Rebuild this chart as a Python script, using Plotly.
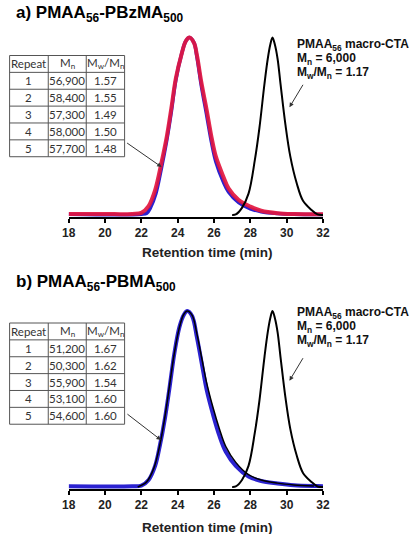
import plotly.graph_objects as go

W, H = 416, 534

# ---------------- data ----------------
# Panel a: PMAA56-PBzMA500
a_red_x = [18, 20, 21.5, 22.0, 22.4, 22.76, 23.1, 23.4, 23.65, 23.9, 24.2, 24.45, 24.65, 24.9,
           25.06, 25.3, 25.6, 25.86, 26.1, 26.5, 26.8, 27.36, 28.0, 28.6, 29.5, 30.4, 31.2, 32]
a_red_y = [0.005, 0.005, 0.006, 0.012, 0.05, 0.14, 0.29, 0.44, 0.60, 0.77, 0.90, 0.98, 1.0, 0.97,
           0.90, 0.75, 0.59, 0.44, 0.33, 0.22, 0.15, 0.084, 0.047, 0.024, 0.01, 0.005, 0.004, 0.004]
a_blue_x = [18, 22.0, 22.3, 22.5, 22.8, 23.1, 23.4, 23.65, 23.9, 24.2, 24.45, 24.65, 24.9, 25.06,
            25.3, 25.6, 25.86, 26.1, 26.5, 26.8, 27.36, 28.0, 28.6, 29.5, 30.4, 32]
a_blue_y = [0.004, 0.004, 0.01, 0.04, 0.12, 0.26, 0.42, 0.58, 0.76, 0.90, 0.98, 1.0, 0.97, 0.89,
            0.73, 0.56, 0.41, 0.30, 0.19, 0.13, 0.07, 0.035, 0.018, 0.008, 0.004, 0.003]

# Macro-CTA (same trace in both panels)
cta_x = [27.0, 27.2, 27.54, 27.9, 28.25, 28.5, 28.78, 28.96, 29.1, 29.22, 29.35, 29.5, 29.66,
         29.93, 30.2, 30.55, 30.9, 31.35, 31.7, 32]
cta_y = [0, 0.003, 0.04, 0.12, 0.31, 0.49, 0.74, 0.88, 0.96, 1.0, 0.96, 0.88, 0.74,
         0.51, 0.33, 0.18, 0.08, 0.03, 0.003, 0]

# Panel b: PMAA56-PBMA500
b_blue_x = [18, 21.5, 22.0, 22.4, 22.76, 23.03, 23.3, 23.56, 23.82, 24.1, 24.35, 24.53, 24.8, 25.06,
            25.33, 25.6, 25.95, 26.3, 26.65, 27.2, 27.9, 28.6, 29.5, 30.4, 31.7, 32]
b_blue_y = [0.004, 0.004, 0.008, 0.04, 0.12, 0.24, 0.39, 0.57, 0.76, 0.91, 0.98, 1.0, 0.97, 0.85,
            0.70, 0.55, 0.41, 0.29, 0.20, 0.12, 0.06, 0.034, 0.02, 0.01, 0.005, 0.004]
b_black_x = [21.8, 22.3, 22.7, 23.0, 23.27, 23.53, 23.8, 24.08, 24.33, 24.53, 24.8, 25.06, 25.33,
             25.6, 25.95, 26.3, 26.65, 27.2, 27.9, 28.6, 29.5, 30.4, 31.5]
b_black_y = [0.0, 0.03, 0.11, 0.23, 0.38, 0.56, 0.75, 0.90, 0.98, 1.0, 0.975, 0.87, 0.73,
             0.59, 0.45, 0.33, 0.23, 0.14, 0.07, 0.04, 0.022, 0.012, 0.006]

# Tables
table_header = ["Repeat", "M<sub>n</sub>", "M<sub>w</sub>/M<sub>n</sub>"]
repeats = ["1", "2", "3", "4", "5"]
a_mn = ["56,900", "58,400", "57,300", "58,000", "57,700"]
a_pdi = ["1.57", "1.55", "1.49", "1.50", "1.48"]
b_mn = ["51,200", "50,300", "55,900", "53,100", "54,600"]
b_pdi = ["1.67", "1.62", "1.54", "1.60", "1.60"]

tick_vals = [18, 20, 22, 24, 26, 28, 30, 32]
cta_lines = ["PMAA<sub>56</sub> macro-CTA", "M<sub>n</sub> = 6,000", "M<sub>w</sub>/M<sub>n</sub> = 1.17"]
titles = ["a) PMAA<sub>56</sub>-PBzMA<sub>500</sub>", "b) PMAA<sub>56</sub>-PBMA<sub>500</sub>"]
xlabel = "Retention time (min)"

RED = "#e3173f"
BLUE = "#2b22d0"
ARIAL = "Liberation Sans, Arial, sans-serif"
TFONT = "Lato, sans-serif"


def py(p):
    return 1 - p / H


def px(p):
    return p / W


fig = go.Figure()

# panel a
fig.add_trace(go.Scatter(x=a_blue_x, y=a_blue_y, mode="lines", line=dict(color=BLUE, width=3.5, shape="spline"),
                         xaxis="x", yaxis="y", showlegend=False))
fig.add_trace(go.Scatter(x=a_red_x, y=a_red_y, mode="lines", line=dict(color=RED, width=4, shape="spline"),
                         opacity=0.92, xaxis="x", yaxis="y", showlegend=False))
fig.add_trace(go.Scatter(x=cta_x, y=cta_y, mode="lines", line=dict(color="black", width=2, shape="spline"),
                         xaxis="x", yaxis="y", showlegend=False))
# panel b
fig.add_trace(go.Scatter(x=b_blue_x, y=b_blue_y, mode="lines", line=dict(color=BLUE, width=4, shape="spline"),
                         xaxis="x2", yaxis="y2", showlegend=False))
fig.add_trace(go.Scatter(x=b_black_x, y=b_black_y, mode="lines", line=dict(color="black", width=1.5, shape="spline"),
                         xaxis="x2", yaxis="y2", showlegend=False))
fig.add_trace(go.Scatter(x=cta_x, y=cta_y, mode="lines", line=dict(color="black", width=2, shape="spline"),
                         xaxis="x2", yaxis="y2", showlegend=False))

xax = dict(range=[18, 32], tickvals=tick_vals, showline=True, linecolor="black", linewidth=1.5,
           ticks="outside", ticklen=4, tickwidth=1.5, tickcolor="black", showgrid=False, zeroline=False,
           tickfont=dict(family=ARIAL, size=12, color="#222", weight="bold"))
yax = dict(range=[-0.012, 1.05], visible=False, showgrid=False, zeroline=False)

annotations = []
shapes = []

# tables drawn as grid (shapes) + text (annotations), built from the lists
col_edges = [2.7, 42.7, 82.0, 121.7]
row_h = 16.87
for top, mn, pdi in [(55.5, a_mn, a_pdi), (323.0, b_mn, b_pdi)]:
    rows = [table_header] + [list(r) for r in zip(repeats, mn, pdi)]
    n = len(rows)
    bottom = top + n * row_h
    for k in range(n + 1):
        yy = top + k * row_h
        shapes.append(dict(type="line", xref="paper", yref="paper", x0=px(col_edges[0]), x1=px(col_edges[-1]),
                           y0=py(yy), y1=py(yy), line=dict(color="#555", width=1)))
    for cx in col_edges:
        shapes.append(dict(type="line", xref="paper", yref="paper", x0=px(cx), x1=px(cx),
                           y0=py(top), y1=py(bottom), line=dict(color="#555", width=1)))
    for r, row in enumerate(rows):
        yc = top + (r + 0.5) * row_h
        for c, val in enumerate(row):
            xc = (col_edges[c] + col_edges[c + 1]) / 2
            annotations.append(dict(text=val, x=px(xc), y=py(yc), xref="paper", yref="paper",
                                    xanchor="center", yanchor="middle", showarrow=False,
                                    font=dict(family=TFONT, size=11.5, color="#333")))

layout_axes = {}
layout_axes["xaxis"] = dict(xax, domain=[px(63.8), px(327)], anchor="y")
layout_axes["yaxis"] = dict(yax, domain=[py(217.1), py(28.6)], anchor="x")
layout_axes["xaxis2"] = dict(xax, domain=[px(63.8), px(327)], anchor="y2")
layout_axes["yaxis2"] = dict(yax, domain=[py(489.1), py(302.2)], anchor="x2")

# titles
for t, yc in zip(titles, [14, 283]):
    annotations.append(dict(text="<b>" + t + "</b>", x=px(7), y=py(yc), xref="paper", yref="paper",
                            xanchor="left", yanchor="middle", showarrow=False,
                            font=dict(family=ARIAL, size=17, color="black")))
# axis titles
for yc in [252, 527]:
    annotations.append(dict(text="<b>" + xlabel + "</b>", x=px(207.5), y=py(yc), xref="paper", yref="paper",
                            xanchor="center", yanchor="middle", showarrow=False,
                            font=dict(family=ARIAL, size=13.5, color="#222")))
# macro-CTA labels
for base in [45, 312.7]:
    for k, line in enumerate(cta_lines):
        annotations.append(dict(text="<b>" + line + "</b>", x=px(298.3), y=py(base + 14 * k),
                                xref="paper", yref="paper", xanchor="left", yanchor="middle",
                                showarrow=False, font=dict(family=ARIAL, size=12, color="#111")))
# arrows
for hx, hy, axp, ayp in [(160, 167, -36, -25), (292.3, 107.3, 14.4, -24),
                         (159.3, 440, -35, -27), (292.3, 380.7, 14.4, -24)]:
    annotations.append(dict(text="", x=px(hx), y=py(hy), xref="paper", yref="paper",
                            ax=axp, ay=ayp, showarrow=True, arrowhead=2, arrowsize=0.9,
                            arrowwidth=1, arrowcolor="#333"))

fig.update_layout(
    width=W, height=H, margin=dict(l=0, r=0, t=0, b=0),
    paper_bgcolor="white", plot_bgcolor="white",
    annotations=annotations, shapes=shapes, showlegend=False,
    **layout_axes,
)

fig.write_html("out.html")
